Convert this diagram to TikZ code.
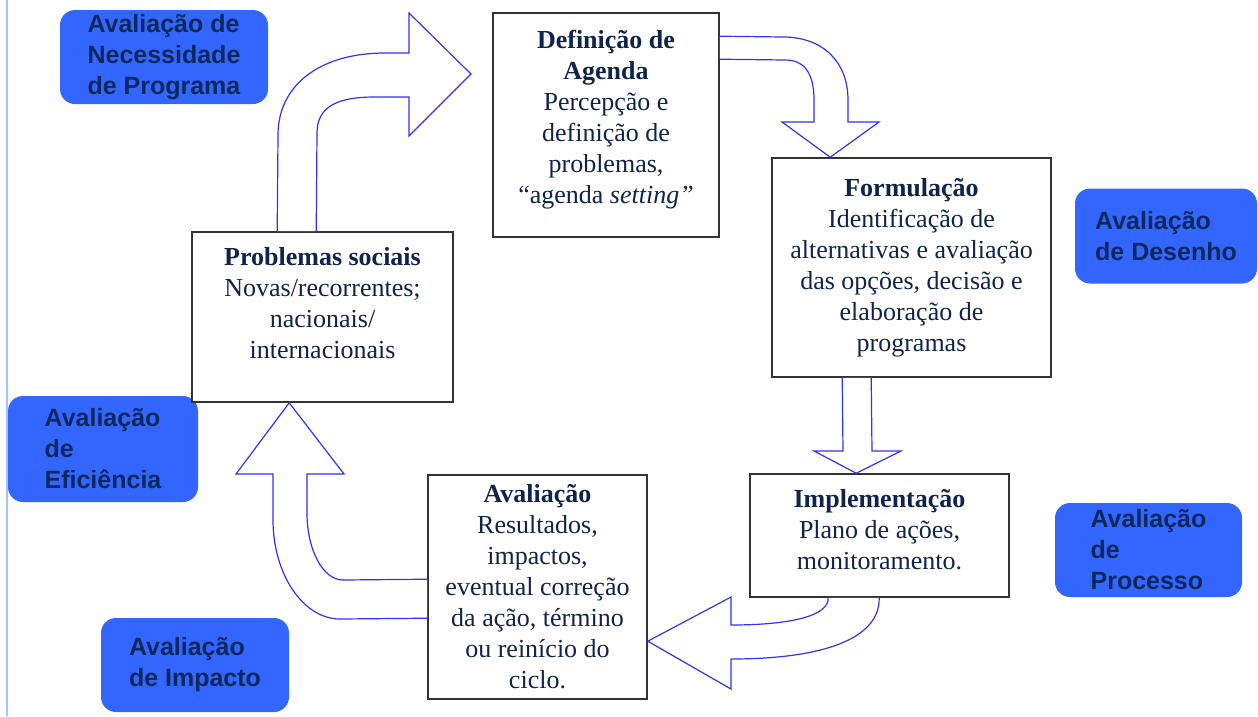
\documentclass[tikz,border=0pt]{standalone}
\usepackage{fontspec}
\setmainfont{Liberation Serif}
\newfontfamily\arialfont{Liberation Sans}
\usetikzlibrary{calc}
\definecolor{boxtext}{RGB}{15,35,75}
\definecolor{evalfill}{RGB}{51,102,255}
\definecolor{evaltext}{RGB}{12,40,92}
\definecolor{arrowblue}{RGB}{50,50,240}
\definecolor{sideblue}{RGB}{160,198,255}

\begin{document}
\begin{tikzpicture}[x=1pt,y=-1pt,
    stage/.style={
      draw=black!80, line width=1.6pt, fill=white,
      align=center, text=boxtext,
      font=\fontsize{26}{31}\selectfont,
    },
    evalbox/.style={
      fill=evalfill, rounded corners=15pt,
      align=left, text=evaltext,
      font=\arialfont\bfseries\fontsize{25}{31}\selectfont,
    },
    blockarrow/.style={draw=arrowblue, line width=1.2pt, fill=white, line join=miter},
  ]
  \useasboundingbox (0,0) rectangle (1258,716);
  \draw[sideblue, line width=2pt] (7,0) -- (7,716);

  % evaluation tags
  \node[evalbox, minimum width=208pt, minimum height=94pt] (necess) at (164,57)
    {Avaliação de\\Necessidade\\de Programa};
  \node[evalbox, minimum width=182pt, minimum height=95pt] (desenho) at (1166,236)
    {Avaliação\\de Desenho};
  \node[evalbox, minimum width=190pt, minimum height=106pt] (efic) at (103,449)
    {Avaliação\\de\\Eficiência};
  \node[evalbox, minimum width=188pt, minimum height=94pt] (impacto) at (195,665)
    {Avaliação\\de Impacto};
  \node[evalbox, minimum width=187pt, minimum height=94pt] (processo) at (1148.5,550)
    {Avaliação\\de\\Processo};

  % stages of the cycle
  \node[stage, minimum width=226pt, minimum height=224pt] (agenda) at (606,125)
    {\textbf{Definição de}\\\textbf{Agenda}\\Percepção e\\definição de\\problemas,\\“agenda \textit{setting”}\\[-15pt]};
  \node[stage, minimum width=279pt, minimum height=219pt] (form) at (911.5,267.5)
    {\textbf{Formulação}\\Identificação de\\alternativas e avaliação\\das opções, decisão e\\elaboração de\\programas};
  \node[stage, minimum width=261pt, minimum height=170pt] (prob) at (322.5,317)
    {\textbf{Problemas sociais}\\Novas/recorrentes;\\nacionais/\\internacionais\\[-2pt]};
  \node[stage, minimum width=259pt, minimum height=123pt] (impl) at (879.5,535.5)
    {\textbf{Implementação}\\Plano de ações,\\monitoramento.\\[-19pt]};
  \node[stage, minimum width=219pt, minimum height=224pt] (aval) at (537.5,587)
    {\textbf{Avaliação}\\Resultados,\\impactos,\\eventual correção\\da ação, término\\ou reinício do\\ciclo.};

  % block arrows
  \draw[blockarrow] ($(prob.north west)+(86,0)$) -- (278,135)
    .. controls (278,85) and (320,53) .. (385,53) -- (409,53) -- (409,13)
    -- (471,74) -- (409,136) -- (409,97) -- (375,97)
    .. controls (340,97) and (317,105) .. (317,133) -- ($(prob.north west)+(125,0)$);
  \draw[blockarrow] ($(agenda.north east)+(0,24)$) -- (783,37)
    .. controls (823,37) and (848,62) .. (848,100) -- (848,122) -- (879,122)
    -- ($(form.north west)+(59,0)$) -- (782,122) -- (814,122) -- (814,100)
    .. controls (814,74) and (805,60) .. (785,60) -- ($(agenda.north east)+(0,47)$);
  \draw[blockarrow] ($(form.south west)+(71,0)$) -- (843,451) -- (814,451)
    -- ($(impl.north west)+(107,0)$) -- (901,451) -- (872,451) -- ($(form.south west)+(100,0)$);
  \draw[blockarrow] ($(impl.south west)+(79,0)$) .. controls (829,616) and (790,625) .. (731,625)
    -- (731,597) -- ($(aval.north east)+(0,167)$) -- (731,689) -- (731,659)
    .. controls (820,659) and (880,640) .. ($(impl.south west)+(130,0)$);
  \draw[blockarrow] ($(aval.north west)+(0,105)$) -- (343,580)
    .. controls (323,580) and (307,550) .. (307,513) -- (307,474) -- (344,474)
    -- ($(prob.south west)+(98,0)$) -- (236,474) -- (273,474) -- (273,520)
    .. controls (273,574) and (303,619) .. (340,619) -- ($(aval.north west)+(0,144)$);
\end{tikzpicture}
\end{document}
